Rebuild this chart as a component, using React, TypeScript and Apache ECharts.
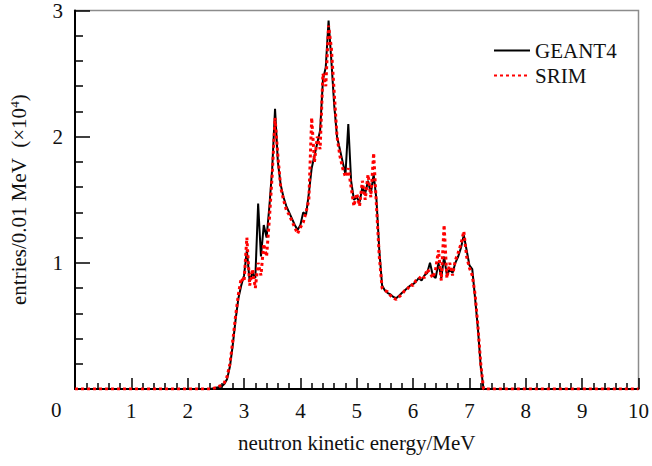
import React, { useEffect, useRef } from "react";
import * as echarts from "echarts";

// Histogram bins (MeV), values in units of 10^4 entries / 0.01 MeV
const binStart = 2.4;
const binWidth = 0.05;
const rangeEdges = [0, 10];

const geant4Values = [
  0.0, 0.005, 0.01, 0.015, 0.02, 0.04, 0.08, 0.18, 0.35, 0.55,
  0.72, 0.82, 0.9, 1.1, 0.85, 0.92, 0.88, 1.47, 1.05, 1.3,
  1.2, 1.45, 1.75, 2.22, 1.8, 1.62, 1.52, 1.45, 1.4, 1.35,
  1.3, 1.26, 1.3, 1.4, 1.38, 1.55, 1.75, 1.85, 1.95, 2.05,
  2.45, 2.55, 2.92, 2.6, 2.25, 2.0, 1.9, 1.8, 1.7, 2.1,
  1.65, 1.5, 1.52, 1.48, 1.6, 1.55, 1.65, 1.55, 1.7, 1.5,
  1.1, 0.82, 0.78, 0.76, 0.75, 0.73, 0.72, 0.74, 0.76, 0.78,
  0.8, 0.82, 0.83, 0.85, 0.88, 0.86, 0.9, 0.92, 1.0, 0.9,
  0.88, 1.0, 0.88, 1.05, 0.9, 0.95, 0.92, 1.0, 1.05, 1.12,
  1.22, 1.1, 0.98, 0.95, 0.72, 0.48, 0.18, 0.0, 0.0,
];

const srimValues = [
  0.0, 0.005, 0.01, 0.02, 0.03, 0.05, 0.1, 0.2, 0.38, 0.58,
  0.75, 0.88, 0.85, 1.2, 0.82, 0.95, 0.8, 1.0, 0.9, 1.15,
  1.05, 1.35, 1.7, 2.15, 1.85, 1.6, 1.5, 1.42, 1.38, 1.33,
  1.28, 1.23, 1.28, 1.32, 1.4, 1.5, 2.15, 1.8, 2.0, 1.9,
  2.5, 2.4, 2.88, 2.7, 2.35, 2.0, 1.85, 1.75, 1.68, 1.75,
  1.6, 1.45, 1.55, 1.45, 1.65, 1.5, 1.7, 1.52, 1.87, 1.45,
  1.05, 0.8, 0.78, 0.77, 0.74, 0.72, 0.71, 0.73, 0.75, 0.78,
  0.79, 0.83, 0.82, 0.86, 0.87, 0.9, 0.88, 0.95, 0.92, 0.88,
  0.95, 1.1, 0.86, 1.3, 0.88, 1.0, 0.9, 1.02, 1.08, 1.15,
  1.25, 1.05, 0.96, 0.9, 0.75, 0.5, 0.2, 0.0, 0.0,
];

const xTickLabels = ["", "1", "2", "3", "4", "5", "6", "7", "8", "9", "10"];
const yTickLabels = ["", "1", "2", "3"];

const FONT = "'Liberation Serif', 'Times New Roman', serif";

function toSeries(values: number[]): [number, number][] {
  const pts: [number, number][] = [[rangeEdges[0], 0]];
  values.forEach((v, i) => {
    pts.push([+(binStart + i * binWidth).toFixed(3), v]);
  });
  pts.push([rangeEdges[1], 0]);
  return pts;
}

export default function App() {
  const ref = useRef<HTMLDivElement>(null);
  useEffect(() => {
    if (!ref.current) return;
    const chart = echarts.init(ref.current, undefined, { renderer: "svg" });
    chart.setOption({
      animation: false,
      backgroundColor: "#ffffff",
      grid: {
        left: 75,
        right: 13,
        top: 10,
        bottom: 77,
        show: true,
        borderColor: "#8c8c8c",
        borderWidth: 1.5,
        backgroundColor: "transparent",
      },
      legend: {
        orient: "vertical",
        left: 488,
        top: 35,
        itemWidth: 36,
        itemHeight: 14,
        itemGap: 4,
        itemStyle: { opacity: 0 },
        textStyle: { fontFamily: FONT, fontSize: 21, color: "#111" },
        data: ["GEANT4", "SRIM"],
      },
      xAxis: {
        type: "value",
        min: 0,
        max: 10,
        interval: 1,
        name: "neutron kinetic energy/MeV",
        nameLocation: "middle",
        nameGap: 43,
        nameTextStyle: { fontFamily: FONT, fontSize: 21, color: "#111" },
        axisLine: { show: true, lineStyle: { color: "#000", width: 2 } },
        axisTick: { show: true, inside: true, length: 11, lineStyle: { color: "#000", width: 1.5 } },
        minorTick: { show: true, splitNumber: 5, length: 6, lineStyle: { color: "#000", width: 1.5 } },
        axisLabel: {
          fontFamily: FONT,
          fontSize: 21,
          color: "#111",
          margin: 11,
          formatter: (v: number) => xTickLabels[Math.round(v)] ?? "",
        },
        splitLine: { show: false },
      },
      yAxis: {
        type: "value",
        min: 0,
        max: 3,
        interval: 1,
        name: "{a|entries/0.01 MeV  (×10}{s|4}{a|)}",
        nameLocation: "middle",
        nameGap: 46,
        nameRotate: 90,
        nameTextStyle: {
          fontFamily: FONT,
          fontSize: 21,
          color: "#111",
          rich: {
            a: { fontFamily: FONT, fontSize: 21, color: "#111" },
            s: { fontFamily: FONT, fontSize: 13, color: "#111", verticalAlign: "top", lineHeight: 13, padding: [0, 0, 10, 0] },
          },
        },
        axisLine: { show: true, lineStyle: { color: "#000", width: 2 } },
        axisTick: { show: true, inside: true, length: 15, lineStyle: { color: "#000", width: 1.5 } },
        minorTick: { show: true, splitNumber: 5, length: 8, lineStyle: { color: "#000", width: 1.5 } },
        axisLabel: {
          fontFamily: FONT,
          fontSize: 21,
          color: "#111",
          margin: 12,
          formatter: (v: number) => yTickLabels[Math.round(v)] ?? "",
        },
        splitLine: { show: false },
      },
      graphic: [
        {
          type: "text",
          left: 51,
          top: 399,
          style: { text: "0", fontFamily: FONT, fontSize: 21, fill: "#111" },
        },
      ],
      series: [
        {
          name: "GEANT4",
          type: "line",
          data: toSeries(geant4Values),
          symbol: "none",
          lineStyle: { color: "#000", width: 2 },
          itemStyle: { color: "#000" },
          z: 2,
        },
        {
          name: "SRIM",
          type: "line",
          data: toSeries(srimValues),
          symbol: "none",
          lineStyle: { color: "#ff0000", width: 3, type: [3, 3] },
          itemStyle: { color: "#ff0000" },
          z: 3,
        },
      ],
    });
    return () => chart.dispose();
  }, []);
  return (
    <div
      ref={ref}
      style={{ position: "fixed", left: 0, top: 0, width: 652, height: 466 }}
    />
  );
}
